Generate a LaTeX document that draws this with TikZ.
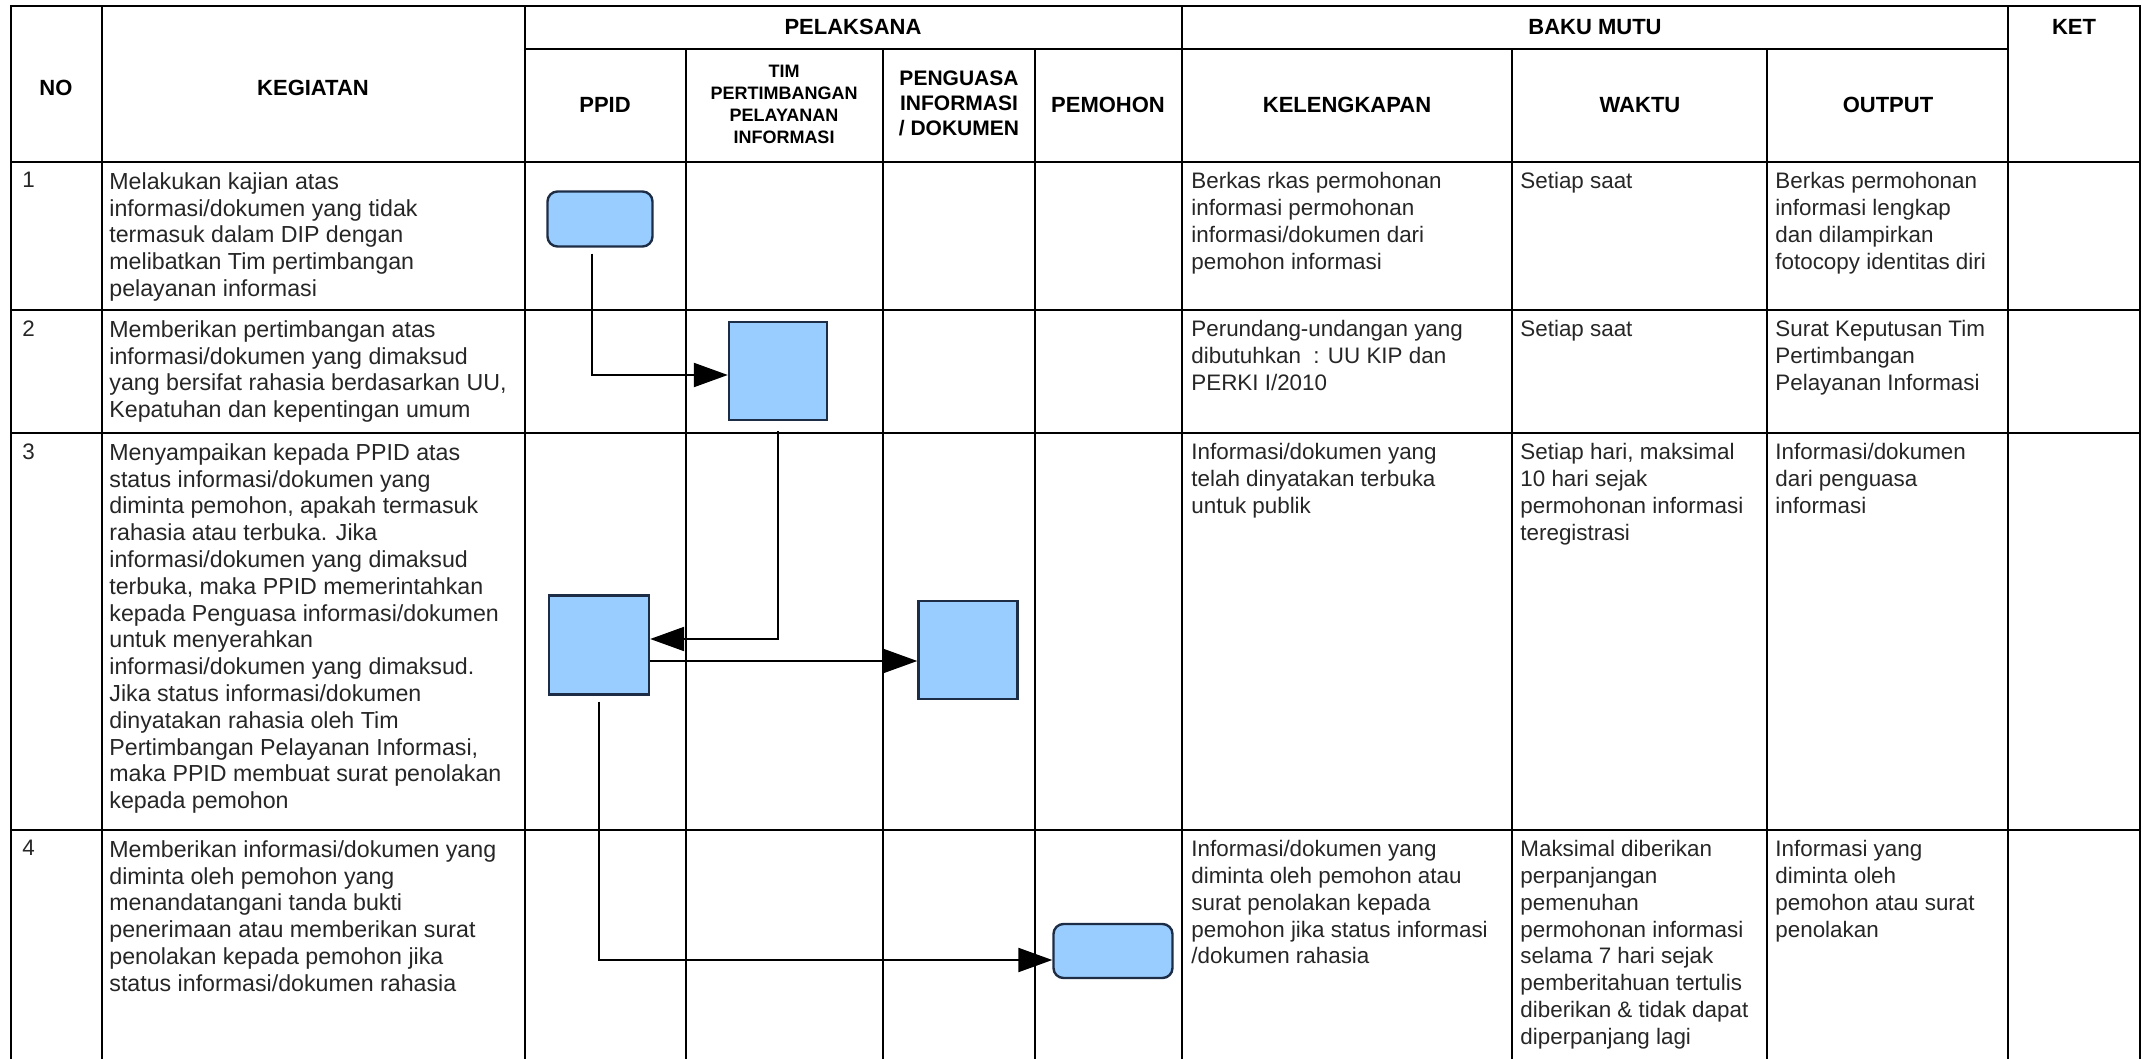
\documentclass[tikz,border=0pt]{standalone}
\usepackage{fontspec}
\setmainfont{Liberation Sans}
\usetikzlibrary{arrows.meta}

\definecolor{isikotak}{RGB}{153,204,255}
\definecolor{tepikotak}{RGB}{30,45,70}

\tikzset{
  garis/.style={line width=1.2pt},
  judul/.style={font=\fontsize{11pt}{13pt}\selectfont\bfseries, align=center, inner sep=0pt},
  isi/.style={font=\fontsize{11.2pt}{13.4pt}\selectfont, align=left, anchor=north west, inner sep=0pt, text=black!85},
  isikeg/.style={isi, font=\fontsize{11.6pt}{13.4pt}\selectfont},
  proses/.style={draw=tepikotak, fill=isikotak, line width=1.2pt, inner sep=0pt},
  awal/.style={proses, rounded corners=5pt},
  alur/.style={-{Triangle[length=17pt,width=12pt]}, line width=1.1pt},
}

\begin{document}
\begin{tikzpicture}[x=0.5pt,y=-0.5pt]
\useasboundingbox (0,0) rectangle (2143,1059);

% Garis tabel
\draw[garis] (11,1059) -- (11,6) -- (2140,6) -- (2140,1059);
\draw[garis] (525,49) -- (2008,49);
\foreach \y in {162,310,433,830}
  \draw[garis] (11,\y) -- (2140,\y);
\foreach \x in {102,525,1182,2008}
  \draw[garis] (\x,6) -- (\x,1059);
\foreach \x in {686,883,1035,1512,1767}
  \draw[garis] (\x,49) -- (\x,1059);

% Judul kolom
\node[judul] (hNo) at (56,88) {NO};
\node[judul] (hKeg) at (313,88) {KEGIATAN};
\node[judul] (hPel) at (853,27) {PELAKSANA};
\node[judul] (hBaku) at (1595,27) {BAKU MUTU};
\node[judul] (hKet) at (2074,27) {KET};
\node[judul] (hPpid) at (605,105) {PPID};
\node[judul, font=\fontsize{9pt}{11pt}\selectfont\bfseries] (hTim) at (784,104)
  {TIM\\PERTIMBANGAN\\PELAYANAN\\INFORMASI};
\node[judul, font=\fontsize{10.5pt}{12.5pt}\selectfont\bfseries] (hPeng) at (959,103)
  {PENGUASA\\INFORMASI\\/ DOKUMEN};
\node[judul] (hPem) at (1108,105) {PEMOHON};
\node[judul] (hKel) at (1347,105) {KELENGKAPAN};
\node[judul] (hWaktu) at (1640,105) {WAKTU};
\node[judul] (hOut) at (1888,105) {OUTPUT};

% Baris 1
\node[isi] (no1) at (22,172) {1};
\node[isikeg] (keg1) at (109,172) {Melakukan kajian atas\\informasi/dokumen yang tidak\\termasuk dalam DIP dengan\\melibatkan Tim pertimbangan\\pelayanan informasi};
\node[isi] (kel1) at (1191,172) {Berkas rkas permohonan\\informasi permohonan\\informasi/dokumen dari\\pemohon informasi};
\node[isi] (waktu1) at (1520,172) {Setiap saat};
\node[isi] (out1) at (1775,172) {Berkas permohonan\\informasi lengkap\\dan dilampirkan\\fotocopy identitas diri};

% Baris 2
\node[isi] (no2) at (22,320) {2};
\node[isikeg] (keg2) at (109,320) {Memberikan pertimbangan atas\\informasi/dokumen yang dimaksud\\yang bersifat rahasia berdasarkan UU,\\Kepatuhan dan kepentingan umum};
\node[isi] (kel2) at (1191,320) {Perundang-undangan yang\\dibutuhkan~ : UU KIP dan\\PERKI I/2010};
\node[isi] (waktu2) at (1520,320) {Setiap saat};
\node[isi] (out2) at (1775,320) {Surat Keputusan Tim\\Pertimbangan\\Pelayanan Informasi};

% Baris 3
\node[isi] (no3) at (22,443) {3};
\node[isikeg] (keg3) at (109,443) {Menyampaikan kepada PPID atas\\status informasi/dokumen yang\\diminta pemohon, apakah termasuk\\rahasia atau terbuka. Jika\\informasi/dokumen yang dimaksud\\terbuka, maka PPID memerintahkan\\kepada Penguasa informasi/dokumen\\untuk menyerahkan\\informasi/dokumen yang dimaksud.\\Jika status informasi/dokumen\\dinyatakan rahasia oleh Tim\\Pertimbangan Pelayanan Informasi,\\maka PPID membuat surat penolakan\\kepada pemohon};
\node[isi] (kel3) at (1191,443) {Informasi/dokumen yang\\telah dinyatakan terbuka\\untuk publik};
\node[isi] (waktu3) at (1520,443) {Setiap hari, maksimal\\10 hari sejak\\permohonan informasi\\teregistrasi};
\node[isi] (out3) at (1775,443) {Informasi/dokumen\\dari penguasa\\informasi};

% Baris 4
\node[isi] (no4) at (22,840) {4};
\node[isikeg] (keg4) at (109,840) {Memberikan informasi/dokumen yang\\diminta oleh pemohon yang\\menandatangani tanda bukti\\penerimaan atau memberikan surat\\penolakan kepada pemohon jika\\status informasi/dokumen rahasia};
\node[isi] (kel4) at (1191,840) {Informasi/dokumen yang\\diminta oleh pemohon atau\\surat penolakan kepada\\pemohon jika status informasi\\/dokumen rahasia};
\node[isi] (waktu4) at (1520,840) {Maksimal diberikan\\perpanjangan\\pemenuhan\\permohonan informasi\\selama 7 hari sejak\\pemberitahuan tertulis\\diberikan \& tidak dapat\\diperpanjang lagi};
\node[isi] (out4) at (1775,840) {Informasi yang\\diminta oleh\\pemohon atau surat\\penolakan};

% Bagan alir
\node[awal, minimum width=52.5pt, minimum height=27.5pt] (ppid1) at (600,219) {};
\node[proses, minimum width=49pt, minimum height=49pt] (tim2) at (778,371) {};
\node[proses, minimum width=50pt, minimum height=49.5pt] (ppid3) at (599,645) {};
\node[proses, minimum width=49.5pt, minimum height=49pt] (peng3) at (968,650) {};
\node[awal, minimum width=59.5pt, minimum height=27pt] (pem4) at (1113,951) {};

\draw[alur, shorten <=3pt] ([xshift=-4pt]ppid1.south) |- ([yshift=-2pt]tim2.west);
\draw[alur, shorten <=5pt] (tim2) |- ([yshift=3pt]ppid3.east);
\draw[alur] ([yshift=-8pt]ppid3.east) -- ([yshift=-8pt]ppid3.east -| peng3.west);
\draw[alur, shorten <=3pt] (ppid3) |- ([yshift=-4.5pt]pem4.west);

\end{tikzpicture}
\end{document}
